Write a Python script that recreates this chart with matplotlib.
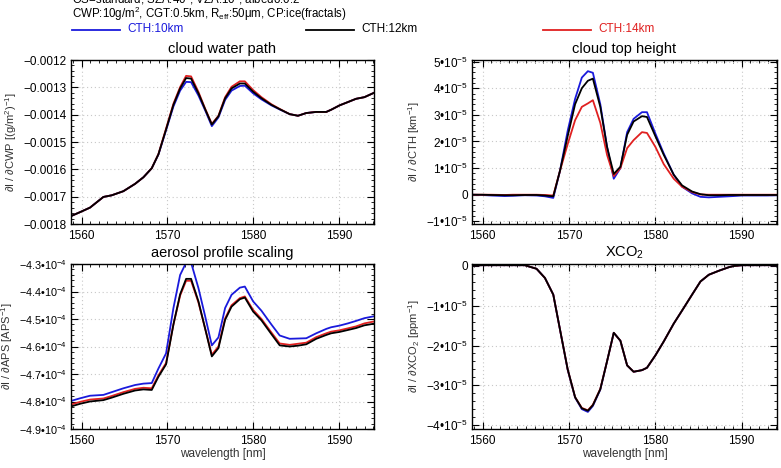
import numpy as np
import matplotlib
matplotlib.use("Agg")
import matplotlib.pyplot as plt
from matplotlib.lines import Line2D
from matplotlib.ticker import MultipleLocator, FuncFormatter

plt.rcParams['font.family'] = ['Liberation Sans', 'DejaVu Sans']
plt.rcParams['mathtext.fontset'] = 'custom'
plt.rcParams['mathtext.rm'] = 'Liberation Sans'
plt.rcParams['mathtext.it'] = 'Liberation Sans:italic'

# wavelength grid [nm]
wl = [1558.75, 1559.85, 1560.97, 1562.53, 1563.5, 1564.86, 1566.23, 1567.2, 1568.17, 1568.95,
      1569.84, 1570.7, 1571.48, 1572.18, 1572.76, 1573.62, 1574.4, 1575.18, 1575.95, 1576.73,
      1577.48, 1578.45, 1579.03, 1580.0, 1580.97, 1582.13, 1583.1, 1584.26, 1585.23, 1586.2,
      1587.36, 1588.53, 1589.1, 1590.08, 1591.05, 1592.0, 1592.98, 1594.1]

labels = ['CTH:10km', 'CTH:12km', 'CTH:14km']
colors = ['#1a1adc', 'black', '#e02020']

# cloud water path, units 1e-3
cwp_12 = [-1.771, -1.756, -1.740, -1.701, -1.695, -1.680, -1.653, -1.629, -1.596, -1.545,
          -1.454, -1.364, -1.304, -1.266, -1.268, -1.322, -1.380, -1.436, -1.406, -1.340,
          -1.304, -1.286, -1.286, -1.316, -1.340, -1.364, -1.380, -1.398, -1.404, -1.394,
          -1.390, -1.390, -1.382, -1.366, -1.354, -1.342, -1.336, -1.320]
cwp_10 = [-1.771, -1.756, -1.740, -1.701, -1.695, -1.680, -1.653, -1.629, -1.596, -1.546,
          -1.457, -1.370, -1.312, -1.280, -1.281, -1.330, -1.384, -1.442, -1.410, -1.346,
          -1.312, -1.295, -1.294, -1.322, -1.344, -1.366, -1.381, -1.398, -1.404, -1.394,
          -1.390, -1.390, -1.382, -1.366, -1.354, -1.342, -1.336, -1.320]
cwp_14 = [-1.771, -1.756, -1.740, -1.701, -1.695, -1.680, -1.653, -1.629, -1.596, -1.544,
          -1.451, -1.360, -1.299, -1.258, -1.260, -1.317, -1.378, -1.434, -1.404, -1.336,
          -1.298, -1.278, -1.278, -1.310, -1.336, -1.362, -1.379, -1.398, -1.404, -1.394,
          -1.390, -1.390, -1.382, -1.366, -1.354, -1.342, -1.336, -1.320]

# cloud top height, units 1e-5
cth_10 = [0.0, -0.01, -0.03, -0.05, -0.04, -0.02, -0.03, -0.06, -0.12, 0.9,
          2.4, 3.6, 4.4, 4.64, 4.58, 3.4, 1.8, 0.6, 1.0, 2.35,
          2.85, 3.1, 3.1, 2.3, 1.55, 0.75, 0.3, 0.05, -0.08, -0.1,
          -0.08, -0.06, -0.05, -0.03, -0.03, -0.03, -0.03, -0.02]
cth_12 = [0.0, 0.0, -0.01, -0.02, -0.02, -0.01, -0.01, -0.03, -0.06, 0.9,
          2.2, 3.4, 4.0, 4.28, 4.36, 3.3, 1.8, 0.78, 1.05, 2.25,
          2.75, 2.95, 2.92, 2.2, 1.5, 0.75, 0.35, 0.12, 0.02, -0.02,
          -0.02, -0.01, -0.01, -0.01, -0.01, -0.01, -0.01, -0.01]
cth_14 = [0.0, 0.0, 0.0, -0.01, 0.0, 0.0, 0.0, -0.01, -0.03, 0.9,
          1.9, 2.8, 3.3, 3.43, 3.55, 2.7, 1.5, 0.7, 1.0, 1.75,
          2.05, 2.35, 2.32, 1.8, 1.15, 0.6, 0.3, 0.1, 0.01, 0.0,
          0.0, 0.0, 0.0, 0.0, 0.0, 0.0, 0.0, 0.0]

# aerosol profile scaling, units 1e-4
aps_10 = [-4.798, -4.788, -4.779, -4.776, -4.766, -4.752, -4.740, -4.735, -4.733, -4.680,
          -4.625, -4.460, -4.340, -4.295, -4.295, -4.388, -4.490, -4.596, -4.567, -4.460,
          -4.412, -4.386, -4.382, -4.436, -4.470, -4.520, -4.560, -4.572, -4.571, -4.570,
          -4.552, -4.536, -4.530, -4.524, -4.516, -4.507, -4.497, -4.490]
aps_12 = [-4.818, -4.808, -4.800, -4.795, -4.786, -4.772, -4.760, -4.756, -4.758, -4.710,
          -4.665, -4.520, -4.410, -4.354, -4.354, -4.436, -4.535, -4.636, -4.606, -4.503,
          -4.455, -4.428, -4.422, -4.473, -4.505, -4.555, -4.596, -4.600, -4.597, -4.592,
          -4.572, -4.558, -4.552, -4.547, -4.540, -4.533, -4.523, -4.517]
aps_14 = [-4.811, -4.801, -4.793, -4.789, -4.780, -4.766, -4.754, -4.750, -4.752, -4.705,
          -4.660, -4.520, -4.415, -4.361, -4.361, -4.440, -4.535, -4.630, -4.600, -4.498,
          -4.450, -4.424, -4.418, -4.467, -4.500, -4.549, -4.589, -4.594, -4.590, -4.586,
          -4.566, -4.552, -4.546, -4.541, -4.534, -4.527, -4.516, -4.509]

# XCO2, units 1e-5
xco2_12 = [0.02, 0.02, 0.02, 0.02, 0.02, 0.02, -0.07, -0.30, -0.72, -1.60,
           -2.60, -3.30, -3.58, -3.64, -3.50, -3.10, -2.40, -1.68, -1.88, -2.50,
           -2.66, -2.62, -2.56, -2.25, -1.90, -1.45, -1.12, -0.72, -0.39, -0.22,
           -0.12, -0.03, 0.0, 0.02, 0.02, 0.02, 0.02, 0.02]
xco2_10 = [0.02, 0.02, 0.02, 0.02, 0.02, 0.02, -0.07, -0.30, -0.72, -1.60,
           -2.61, -3.31, -3.60, -3.67, -3.52, -3.11, -2.40, -1.68, -1.88, -2.50,
           -2.66, -2.62, -2.56, -2.25, -1.90, -1.45, -1.12, -0.72, -0.39, -0.22,
           -0.12, -0.03, 0.0, 0.02, 0.02, 0.02, 0.02, 0.02]
xco2_14 = [0.02, 0.02, 0.02, 0.02, 0.02, 0.02, -0.07, -0.30, -0.72, -1.60,
           -2.60, -3.30, -3.57, -3.63, -3.49, -3.09, -2.40, -1.68, -1.88, -2.50,
           -2.66, -2.62, -2.56, -2.25, -1.90, -1.45, -1.12, -0.72, -0.39, -0.22,
           -0.12, -0.03, 0.0, 0.02, 0.02, 0.02, 0.02, 0.02]


def sci_fmt(exp, nd):
    def f(v, pos):
        m = v / 10.0 ** exp
        if abs(m) < 1e-9:
            return '0'
        s = f"{m:.{nd}f}".replace('-', '\u2212')
        return s + '\u202210$^{%d}$' % exp
    return FuncFormatter(f)


W, H = 781, 468
fig = plt.figure(figsize=(W / 100, H / 100), dpi=100)


def add_ax(l, r, t, b):
    return fig.add_axes([l / W, 1 - b / H, (r - l) / W, (b - t) / H])


ax_cwp = add_ax(71, 374, 60, 224)
ax_cth = add_ax(472, 777, 60, 224)
ax_aps = add_ax(71, 374, 264, 429)
ax_xco = add_ax(472, 777, 264, 429)

panels = [
    (ax_cwp, [cwp_10, cwp_12, cwp_14], 1e-3, 'cloud water path',
     '\u2202I / \u2202CWP [(g/m$^{2}$)$^{\u22121}$]', (-0.0018, -0.0012), 0.0001, 0.00002, None, 8.5),
    (ax_cth, [cth_10, cth_12, cth_14], 1e-5, 'cloud top height',
     '\u2202I / \u2202CTH [km$^{\u22121}$]', (-1.1e-5, 5.06e-5), 1e-5, 0.2e-5, sci_fmt(-5, 0), 8.5),
    (ax_aps, [aps_10, aps_12, aps_14], 1e-4, 'aerosol profile scaling',
     '\u2202I / \u2202APS [APS$^{\u22121}$]', (-4.9e-4, -4.3e-4), 0.1e-4, 0.02e-4, sci_fmt(-4, 1), 7.8),
    (ax_xco, [xco2_10, xco2_12, xco2_14], 1e-5, 'XCO$_2$',
     '\u2202I / \u2202XCO$_2$ [ppm$^{\u22121}$]', (-4.1e-5, 0.05e-5), 1e-5, 0.2e-5, sci_fmt(-5, 0), 8.5),
]

for ax, series, unit, title, ylabel, ylim, major, minor, fmt, ysize in panels:
    for i in [0, 2, 1]:
        ax.plot(wl, np.array(series[i]) * unit, color=colors[i], lw=1.3)
    ax.set_xlim(wl[0], wl[-1])
    ax.set_ylim(*ylim)
    ax.xaxis.set_major_locator(MultipleLocator(10))
    ax.xaxis.set_minor_locator(MultipleLocator(1))
    ax.yaxis.set_major_locator(MultipleLocator(major))
    ax.yaxis.set_minor_locator(MultipleLocator(minor))
    if fmt is None:
        ax.yaxis.set_major_formatter(FuncFormatter(lambda v, p: f"{v:.4f}".replace('-', '\u2212')))
    else:
        ax.yaxis.set_major_formatter(fmt)
    ax.tick_params(which='both', direction='in', top=True, right=True, labelsize=8.5, pad=4)
    ax.tick_params(axis='y', labelsize=ysize, pad=3)
    ax.tick_params(which='major', length=5, width=0.8)
    ax.tick_params(which='minor', length=2.5, width=0.6)
    ax.grid(True, which='major', color='#c8c8c8', linestyle=(0, (1, 2.5)), lw=0.8)
    ax.set_title(title, fontsize=10.5, pad=5)
    ax.set_ylabel(ylabel, fontsize=8, color='#333333', labelpad=3)
    for s in ax.spines.values():
        s.set_linewidth(1.0)

ax_aps.set_xlabel('wavelength [nm]', fontsize=8.5, labelpad=1, color='#333333')
ax_xco.set_xlabel('wavelength [nm]', fontsize=8.5, labelpad=1, color='#333333')

# header text
fig.text(72 / W, 1 + 0.5 / H, 'OS=standard, SZA:40$^{\\circ}$, VZA:10$^{\\circ}$, albedo:0.2',
         fontsize=8.3, va='center', ha='left')
fig.text(72 / W, 1 - 14 / H, 'CWP:10g/m$^{2}$, CGT:0.5km, R$_{\\mathrm{eff}}$:50\u03bcm, CP:ice(fractals)',
         fontsize=8.3, va='center', ha='left')

leg_x = [72, 306, 543]
for x0, lab, col in zip(leg_x, labels, colors):
    fig.add_artist(Line2D([x0 / W, (x0 + 48) / W], [1 - 29.5 / H, 1 - 29.5 / H],
                          color=col, lw=1.3, transform=fig.transFigure))
    fig.text((x0 + 55) / W, 1 - 29.5 / H, lab, color=col, fontsize=8.5, va='center', ha='left')

fig.savefig('out.png', dpi=100)
